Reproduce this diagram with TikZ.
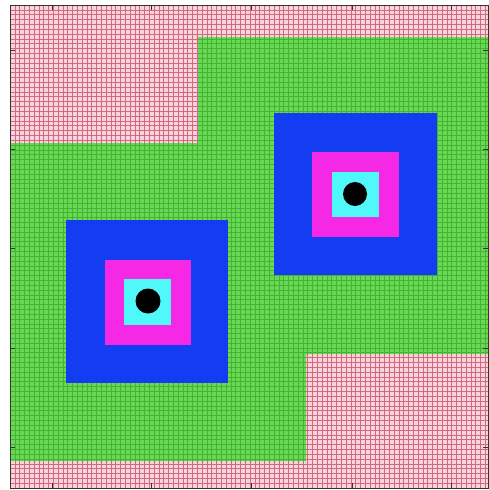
\documentclass[tikz,border=0pt]{standalone}
\definecolor{pinkbg}{RGB}{250,210,218}
\definecolor{pinkline}{RGB}{205,105,128}
\definecolor{greenbg}{RGB}{105,216,82}
\definecolor{greenline}{RGB}{68,178,52}
\definecolor{blueblock}{RGB}{20,60,240}
\definecolor{magblock}{RGB}{245,40,230}
\definecolor{cyanblock}{RGB}{80,248,250}
\tikzset{
  pinkgridline/.style={draw=pinkline,line width=0.55pt},
  greengridline/.style={draw=greenline,line width=0.55pt},
  framebox/.style={draw=black!80,line width=0.8pt},
  tickmark/.style={draw=black!80,line width=0.8pt},
}
\begin{document}
\begin{tikzpicture}[x=1pt,y=-1pt]
\useasboundingbox (0,0) rectangle (488,490);
\fill[white] (0,0) rectangle (488,490);
% pink background with grid
\fill[pinkbg] (10,5) rectangle (488,488);
\foreach \i in {0,...,100} {
  \draw[pinkgridline] (10+\i*4.8,5) -- (10+\i*4.8,488);
  \draw[pinkgridline] (10,5+\i*4.83) -- (488,5+\i*4.83);
}
% green region
\begin{scope}
  \clip (198,37) -- (488,37) -- (488,354) -- (306,354) -- (306,461) -- (10,461) -- (10,143) -- (198,143) -- cycle;
  \fill[greenbg] (10,5) rectangle (488,488);
  \foreach \i in {0,...,100} {
    \draw[greengridline] (10+\i*4.8,5) -- (10+\i*4.8,488);
    \draw[greengridline] (10,5+\i*4.83) -- (488,5+\i*4.83);
  }
\end{scope}
% left block
\fill[blueblock] (66,220) rectangle (228,383);
\fill[magblock] (105,260) rectangle (191,345);
\fill[cyanblock] (124,279) rectangle (171,325);
\fill[black] (148,301) circle (12.5);
% right block
\fill[blueblock] (274,113) rectangle (437,275);
\fill[magblock] (312,152) rectangle (399,237);
\fill[cyanblock] (332,172) rectangle (379,217);
\fill[black] (355,194) circle (12);
% frame and ticks
\draw[framebox] (10,5) rectangle (488,488);
\foreach \t in {52,151,251,352,451} {
  \draw[tickmark] (\t,5) -- (\t,10);
  \draw[tickmark] (\t,488) -- (\t,483);
}
\foreach \t in {50,149,248,348,447} {
  \draw[tickmark] (10,\t) -- (15,\t);
  \draw[tickmark] (488,\t) -- (483,\t);
}
\end{tikzpicture}
\end{document}
